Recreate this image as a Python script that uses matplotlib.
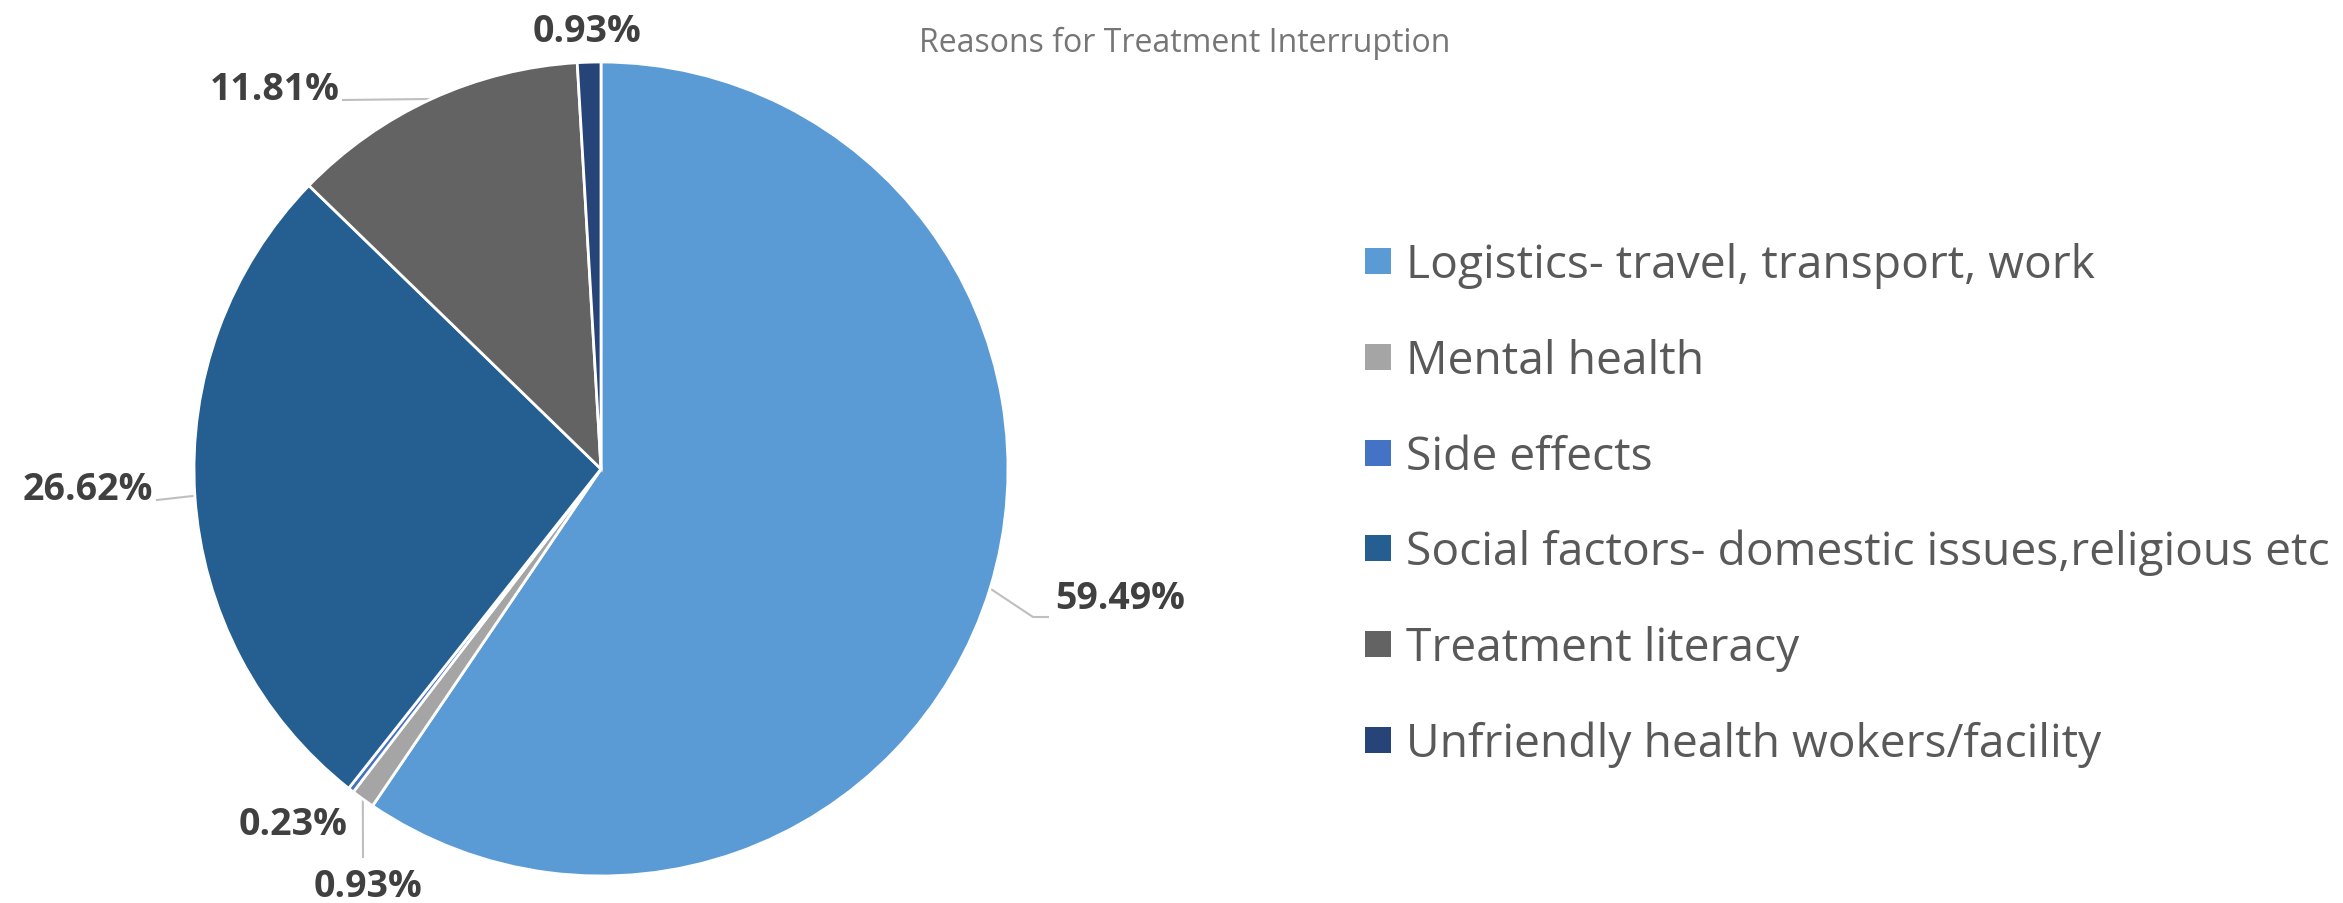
import numpy as np
import matplotlib.pyplot as plt
from matplotlib.patches import Rectangle

reasons = [
    'Logistics- travel, transport, work',
    'Mental health',
    'Side effects',
    'Social factors- domestic issues,religious etc',
    'Treatment literacy',
    'Unfriendly health wokers/facility',
]
shares = [59.49, 0.93, 0.23, 26.62, 11.81, 0.93]
colors = ['#5B9BD5', '#A5A5A5', '#4472C4', '#255E91', '#636363', '#264478']

# canvas in pixels, y measured from the top
W, H = 2343, 904
CX, CY, R = 601, 470, 407

# label baseline anchors (x centre, y baseline) and leader elbows
label_xy = [(1120, 609), (368, 897), (293, 835), (88, 500), (275, 100), (587, 42)]
leaders = [
    [(1033, 618), (1048, 618)],
    [(363, 858)],
    None,
    [(157, 501)],
    [(343, 101)],
    None,
]


def fy(y):
    return H - y


fig = plt.figure(figsize=(W / 100, H / 100), dpi=100)
ax = fig.add_axes([0, 0, 1, 1])

wedges, _ = ax.pie(shares, colors=colors, startangle=90, counterclock=False,
                   center=(CX, fy(CY)), radius=R,
                   wedgeprops=dict(edgecolor='white', linewidth=2))
ax.set_xlim(0, W)
ax.set_ylim(0, H)
ax.axis('off')

label_font = dict(family='Open Sans', fontsize=27, fontweight='bold', color='#404040')
for w, v, (lx, ly), lead in zip(wedges, shares, label_xy, leaders):
    ax.text(lx, fy(ly), f'{v:.2f}%', ha='center', va='baseline', **label_font)
    if lead:
        mid = np.deg2rad((w.theta1 + w.theta2) / 2)
        ex, ey = CX + R * np.cos(mid), fy(CY) + R * np.sin(mid)
        xs = [ex] + [p[0] for p in lead]
        ys = [ey] + [fy(p[1]) for p in lead]
        ax.plot(xs, ys, color='#BFBFBF', lw=1.5, zorder=0)

# legend
for i, (name, c) in enumerate(zip(reasons, colors)):
    yc = 262 + i * 95.8
    ax.add_patch(Rectangle((1365, fy(yc + 13)), 26, 26, facecolor=c, edgecolor='none'))
    ax.text(1406, fy(yc + 16), name, ha='left', va='baseline',
            family='Open Sans', fontsize=33.2, color='#595959')

ax.text(1185, fy(52), 'Reasons for Treatment Interruption', ha='center', va='baseline',
        family='Open Sans', fontsize=23, color='#767676')

fig.savefig('out.png', dpi=100, facecolor='white')
